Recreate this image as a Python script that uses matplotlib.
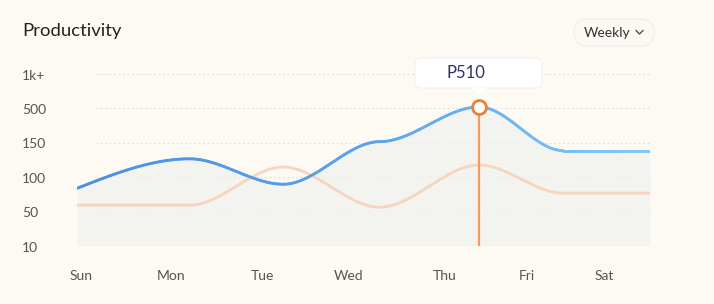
import matplotlib
matplotlib.use("Agg")
import matplotlib.pyplot as plt
import numpy as np
from matplotlib.path import Path
from matplotlib.patches import FancyBboxPatch, Polygon
from matplotlib.collections import LineCollection
from matplotlib.colors import LinearSegmentedColormap

# ---- data -------------------------------------------------------------------
y_labels = ["10", "50", "100", "150", "500", "1k+"]
day_labels = ["Sun", "Mon", "Tue", "Wed", "Thu", "Fri", "Sat"]
day_label_pos = [0.04, 0.98, 1.94, 2.84, 3.85, 4.71, 5.52]

point_x = [0, 1.18, 2.16, 3.17, 4.21, 5.09, 6]
blue_vals = [1.67, 2.53, 1.79, 3.03, 4.04, 2.77, 2.77]
orange_vals = [1.18, 1.18, 2.29, 1.12, 2.35, 1.53, 1.53]

tooltip_idx = 4
tooltip_text = "P510"

BG = "#fdf9f3"
W, H = 714, 304
plt.rcParams["font.family"] = ["Lato", "DejaVu Sans"]


def smooth_path(xs, ys):
    """Bezier curve through the points, flat at each inner point."""
    xs = np.asarray(xs, float)
    ys = np.asarray(ys, float)
    h = np.diff(xs)
    s = np.diff(ys) / h
    m = np.zeros(len(xs))
    m[0] = 1.5 * s[0]
    m[-1] = 1.5 * s[-1]
    verts = [(xs[0], ys[0])]
    codes = [Path.MOVETO]
    for i in range(len(xs) - 1):
        d = h[i] / 3
        verts += [(xs[i] + d, ys[i] + m[i] * d),
                  (xs[i + 1] - d, ys[i + 1] - m[i + 1] * d),
                  (xs[i + 1], ys[i + 1])]
        codes += [Path.CURVE4] * 3
    return Path(verts, codes)


def sample_path(path, steps=60):
    pts = []
    for seg, code in path.iter_bezier():
        if code == Path.MOVETO:
            continue
        pts.append(seg.point_at_t(np.linspace(0, 1, steps)))
    return np.vstack(pts)


fig = plt.figure(figsize=(W / 100, H / 100), dpi=100, facecolor=BG)

# overlay axes in pixel units for the card decorations
deco = fig.add_axes([0, 0, 1, 1], zorder=0)
deco.set_xlim(0, W)
deco.set_ylim(H, 0)
deco.axis("off")

ax = fig.add_axes([77 / W, 1 - 245.7 / H, 573 / W, 171.7 / H], zorder=1)
ax.patch.set_alpha(0)
ax.set_xlim(0, 6)
ax.set_ylim(0, 5)
for sp in ax.spines.values():
    sp.set_visible(False)
ax.set_xticks([])
ax.set_yticks([])

# dotted grid
for yi in range(len(y_labels)):
    ax.plot([0.2, 6], [yi, yi], ls=(0, (1.5, 2.5)), lw=0.8, color="#dedcd6", zorder=1)

blue_pts = sample_path(smooth_path(point_x, blue_vals))
orange_pts = sample_path(smooth_path(point_x, orange_vals))

# soft area under the blue line
ax.fill_between(blue_pts[:, 0], 0, blue_pts[:, 1], color="#f0f1ee", alpha=0.7,
                lw=0, zorder=2)

# orange series
ax.plot(orange_pts[:, 0], orange_pts[:, 1], color="#f6d5bf", lw=2, zorder=3,
        solid_capstyle="round")

# blue series with a left-to-right gradient
cmap = LinearSegmentedColormap.from_list("bl", ["#4a8fe6", "#5aa3ec", "#80caf8"])
segs = np.stack([blue_pts[:-1], blue_pts[1:]], axis=1)
lc = LineCollection(segs, cmap=cmap, lw=2, zorder=4, capstyle="round")
lc.set_array(blue_pts[:-1, 0])
lc.set_clim(0, 6)
ax.add_collection(lc)

# highlighted point
px, py = point_x[tooltip_idx], blue_vals[tooltip_idx]
ax.plot([px, px], [0, py], color="#f39a5c", lw=1.6, zorder=5)
ax.plot(px, py, "o", ms=10, mfc="white", mec="#f07f36", mew=2, zorder=6, clip_on=False)

# y labels and day labels
for yi, lab in enumerate(y_labels):
    deco.text(22, 247.5 - yi * 34.34, lab, fontsize=10, color="#555555",
              ha="left", va="center")
for xp, lab in zip(day_label_pos, day_labels):
    ax.text(xp, -0.89, lab, fontsize=10, color="#555555", ha="center", va="center")

# title
deco.text(22, 31, "Productivity", fontsize=13.3, color="#222222",
          ha="left", va="center")

# weekly pill
deco.add_patch(FancyBboxPatch((574, 19), 80, 27,
                              boxstyle="round,pad=0,rounding_size=13.5",
                              facecolor="#fcf9f4", edgecolor="#f3efe8", lw=1))
deco.text(584, 33, "Weekly", fontsize=10, color="#333333", ha="left", va="center")
deco.plot([636, 639.5, 643], [30.5, 34, 30.5], color="#444444", lw=0.9)

# tooltip (drawn on top of the chart)
tip_ax = fig.add_axes([0, 0, 1, 1], zorder=2)
tip_ax.set_xlim(0, W)
tip_ax.set_ylim(H, 0)
tip_ax.axis("off")
tip_ax.add_patch(FancyBboxPatch((415, 58), 127, 30,
                                boxstyle="round,pad=0,rounding_size=6",
                                facecolor="white", edgecolor="#f5f1ea", lw=0.8))
tip_ax.add_patch(Polygon([(471, 87.5), (487, 87.5), (479, 95)], closed=True,
                         facecolor="white", lw=0))
tip_ax.text(446, 73.5, tooltip_text, fontsize=12, color="#2e3366",
            ha="left", va="center")

fig.savefig("out.png", dpi=100, facecolor=BG)
